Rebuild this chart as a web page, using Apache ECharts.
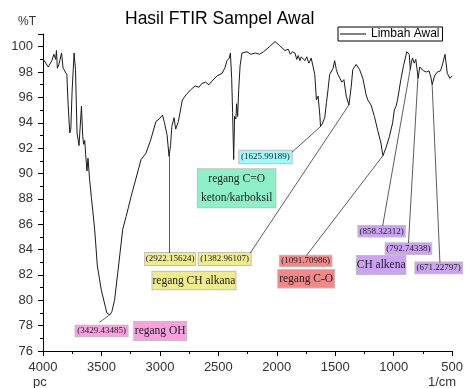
<!DOCTYPE html>
<html>
<head>
<meta charset="utf-8">
<script src="https://cdn.jsdelivr.net/npm/echarts@6/dist/echarts.min.js"></script>
<style>html,body{margin:0;padding:0;background:#fff}#c{width:466px;height:388px}</style>
</head>
<body>
<div id="c"></div>
<script>
// ---- DATA ----
const chartTitle = 'Hasil FTIR Sampel Awal';
const seriesName = 'Limbah Awal';
const xRange = [500, 4000];
const yRange = [76, 101];
const wavenumber = [3997,3955,3924,3907,3892,3885,3877,3864,3841,3828,3813,3796,3785,3771,3762,3751,3734,3722,3709,3692,3671,3660,3652,3643,3635,3624,3615,3601,3586,3558,3535,3501,3454,3429,3411,3388,3360,3318,3289,3246,3161,3119,3077,3034,3006,2978,2961,2938,2922,2909,2898,2879,2865,2842,2808,2777,2737,2700,2666,2641,2609,2581,2553,2511,2468,2445,2426,2407,2397,2386,2378,2369,2361,2350,2344,2335,2326,2314,2298,2255,2224,2184,2148,2114,2063,2015,1978,1930,1902,1884,1867,1845,1829,1817,1802,1791,1774,1760,1744,1726,1706,1689,1675,1661,1647,1632,1626,1612,1604,1590,1575,1562,1548,1534,1519,1505,1491,1477,1463,1443,1426,1406,1383,1364,1350,1321,1292,1264,1236,1222,1194,1165,1137,1109,1092,1067,1037,1009,995,980,967,939,916,903,888,867,858,848,839,825,811,797,792,777,769,746,718,698,682,671,650,627,599,580,561,542,519,500];
const transmittance = [99.0,98.4,98.9,99.4,99.0,99.7,98.3,98.6,99.5,98.3,98.4,97.8,95.4,93.2,93.5,96.5,99.5,98.2,93.2,92.2,95.3,92.9,92.3,92.6,91.5,90.2,91.2,89.5,88.1,85.6,82.7,80.8,79.0,78.85,79.1,80.0,82.2,85.6,86.6,88.2,91.1,91.6,92.7,94.1,94.3,94.6,94.0,93.0,91.35,92.2,93.7,94.4,93.5,94.1,95.8,96.2,96.6,96.9,96.8,97.1,97.2,97.0,97.3,97.7,97.9,98.3,98.9,99.1,99.5,97.5,94.8,91.1,94.5,94.3,95.5,94.5,96.6,98.5,99.5,99.6,99.4,99.5,99.4,99.6,100.0,100.4,100.1,99.7,99.8,99.4,99.6,99.5,99.0,99.3,98.9,99.2,99.1,98.9,99.2,98.7,99.1,98.4,97.8,95.8,96.1,94.6,93.7,93.9,94.0,94.4,95.6,96.6,97.8,97.7,98.3,98.9,98.2,97.8,97.9,97.2,97.4,96.1,95.4,96.8,98.2,98.6,98.2,97.5,96.2,95.8,95.4,94.5,93.4,92.4,91.4,92.0,92.9,94.0,95.0,95.3,95.8,97.4,98.5,98.6,99.6,99.4,98.2,98.8,99.1,98.7,99.0,98.0,97.5,98.4,98.5,98.1,98.0,98.1,97.6,97.0,97.7,98.0,98.1,98.7,99.4,97.9,97.5,97.7];
const peakWavenumbers = [3429.43485, 2922.15624, 1625.99189, 1382.96107, 1091.70986, 858.32312, 792.74338, 671.22797];
const groupNames = ['regang OH', 'regang CH alkana', 'regang C=O\nketon/karboksil', 'regang C-O', 'CH alkena'];

// ---- LAYOUT / STYLE (annotation placement in data units) ----
const fills = {pink:'#fba0de', yellow:'#f0ec8e', cyan:'#a0fafa', teal:'#8ef0c8', red:'#f28888', purple:'#cca2f6'};
const peakLayout = [
  {at:[3498.8,77.58], w:52,   h:10.5, fill:'pink',   from:[3515.8,78.27]},
  {at:[2912.6,83.26], w:50,   h:12,   fill:'yellow', from:[2922.16,83.73]},
  {at:[2097.1,91.30], w:52.5, h:12.5, fill:'cyan',   from:[1873.6,91.65]},
  {at:[2445.4,83.26], w:52,   h:12,   fill:'yellow', from:[2227,83.73]},
  {at:[1753.0,83.10], w:51.5, h:10.5, fill:'red',    from:[1746.2,83.53]},
  {at:[1103.2,85.44], w:46.5, h:10.5, fill:'purple', from:[1094.7,85.86]},
  {at:[873.8,84.07],  w:45.5, h:10.7, fill:'purple', from:[873.8,84.49]},
  {at:[614.7,82.55],  w:46.7, h:10.7, fill:'purple', from:[604.5,82.96]}
];
const groupLayout = [
  {at:[2997.6,77.58], w:52,   h:18,   fill:'pink'},
  {at:[2708.7,81.56], w:83,   h:17.5, fill:'yellow'},
  {at:[2343.5,88.83], w:77.5, h:38,   fill:'teal', lh:19},
  {at:[1748.8,81.70], w:56,   h:17.5, fill:'red'},
  {at:[1107.4,82.78], w:48.5, h:18,   fill:'purple'}
];

function interpT(w){
  for (let i=0;i<wavenumber.length-1;i++){
    const a=wavenumber[i], b=wavenumber[i+1];
    if (w<=a && w>=b){ const t=(a-w)/(a-b); return transmittance[i]+(transmittance[i+1]-transmittance[i])*t; }
  }
  return transmittance[transmittance.length-1];
}

const SANS = '"Liberation Sans", Arial, sans-serif';
const SERIF = '"Liberation Serif", "Times New Roman", serif';

const markPoints = [];
peakWavenumbers.forEach((p,i)=>{
  const L = peakLayout[i];
  markPoints.push({coord:L.at, symbolSize:0, label:{show:true, position:'inside', formatter:'(' + p.toFixed(5) + ')',
    fontFamily:SERIF, fontSize:9, color:'#222', backgroundColor:fills[L.fill], borderColor:'rgba(0,0,0,0.25)', borderWidth:1,
    width:L.w, height:L.h, lineHeight:L.h, padding:0, align:'center', verticalAlign:'middle'}});
});
groupNames.forEach((g,i)=>{
  const L = groupLayout[i];
  markPoints.push({coord:L.at, symbolSize:0, label:{show:true, position:'inside', formatter:g,
    fontFamily:SERIF, fontSize:11.5, color:'#222', backgroundColor:fills[L.fill], borderColor:'rgba(0,0,0,0.25)', borderWidth:1,
    width:L.w, height:L.h, lineHeight:L.lh || L.h, padding:0, align:'center', verticalAlign:'middle'}});
});
const leaders = peakWavenumbers.map((p,i)=>[{coord:peakLayout[i].from},{coord:[p, interpT(p)]}]);

const chart = echarts.init(document.getElementById('c'), null, {renderer:'canvas'});
chart.setOption({
  animation:false,
  backgroundColor:'#fff',
  title:{text:chartTitle, left:125, top:10, padding:0, textStyle:{fontFamily:SANS, fontSize:17.5, fontWeight:'normal', color:'#000'}},
  legend:{data:[{name:seriesName, icon:'rect'}], left:338, top:27, padding:[1,3,1,2], itemWidth:26, itemHeight:1, itemGap:0,
    itemStyle:{color:'#000', borderWidth:0},
    borderColor:'#000', borderWidth:1, borderRadius:0, backgroundColor:'#fff',
    textStyle:{fontFamily:SANS, fontSize:12, color:'#000'}},
  grid:{left:43, right:11, top:34, bottom:37},
  xAxis:{type:'value', inverse:true, min:xRange[0], max:xRange[1], interval:500,
    axisLine:{lineStyle:{color:'#000', width:1}},
    axisTick:{show:true, inside:false, length:5, lineStyle:{color:'#000'}},
    minorTick:{show:true, splitNumber:2, length:3, lineStyle:{color:'#000'}},
    splitLine:{show:false},
    axisLabel:{fontFamily:SANS, fontSize:13, color:'#333', margin:10, formatter:(v)=>String(v)}},
  yAxis:{type:'value', min:yRange[0], max:yRange[1], interval:2,
    axisLine:{show:true, lineStyle:{color:'#000', width:1}},
    axisTick:{show:true, inside:false, length:5, lineStyle:{color:'#000'}},
    minorTick:{show:true, splitNumber:2, length:3, lineStyle:{color:'#000'}},
    splitLine:{show:false},
    axisLabel:{fontFamily:SANS, fontSize:13, color:'#333', margin:10, showMaxLabel:false, formatter:(v)=>String(v)}},
  graphic:[
    {type:'text', left:18, top:16, style:{text:'%T', font:'12px ' + SANS, fill:'#333'}},
    {type:'text', left:33, top:376, style:{text:'pc', font:'13px ' + SANS, fill:'#333'}},
    {type:'text', left:428, top:376, style:{text:'1/cm', font:'13px ' + SANS, fill:'#333'}}
  ],
  series:[{
    name:seriesName, type:'line', symbol:'none', showSymbol:false,
    data:wavenumber.map((w,i)=>[w, transmittance[i]]),
    lineStyle:{color:'#1a1a1a', width:1}, itemStyle:{color:'#1a1a1a'},
    markLine:{silent:true, symbol:['none','none'], label:{show:false}, lineStyle:{color:'#333', width:0.8, type:'solid'}, data:leaders},
    markPoint:{silent:true, data:markPoints}
  }]
});
</script>
</body>
</html>
